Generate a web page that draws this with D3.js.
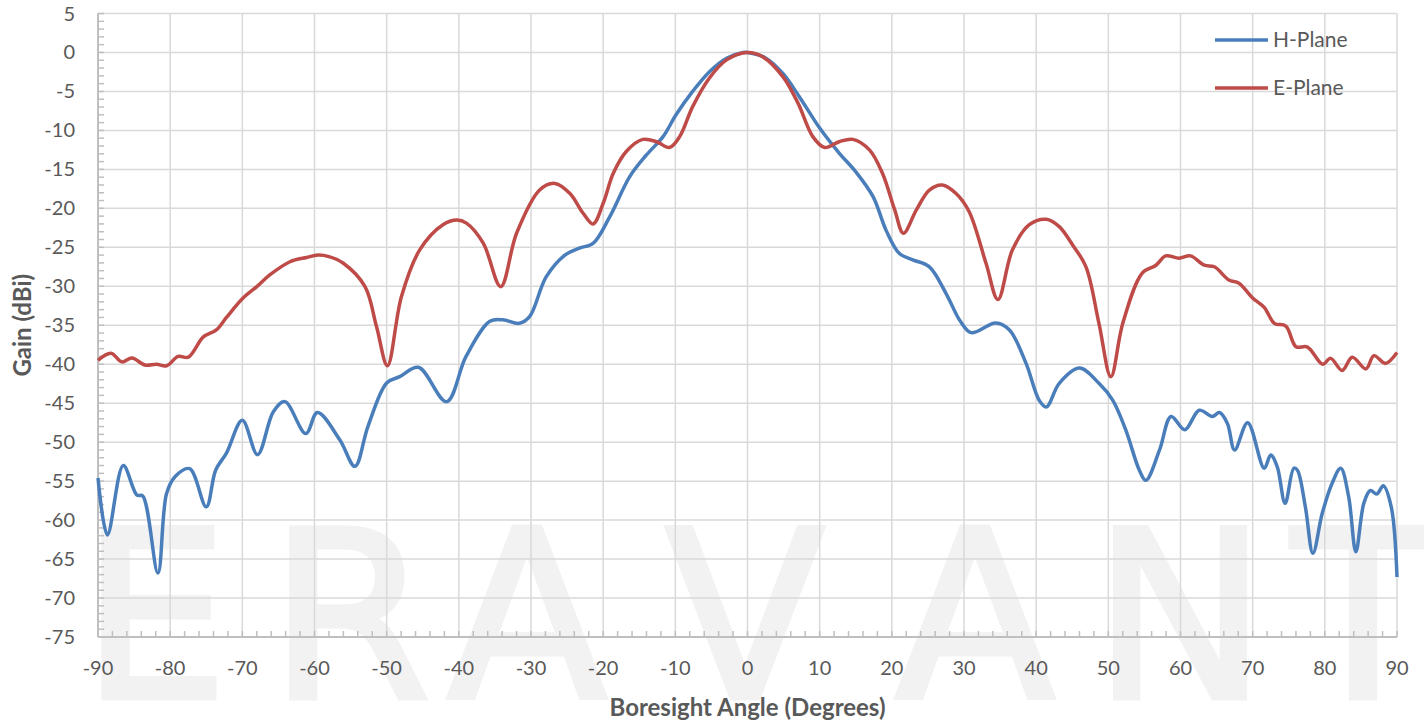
<!DOCTYPE html>
<html>
<head>
<meta charset="utf-8">
<script src="https://cdn.jsdelivr.net/npm/d3@7"></script>
<style>
  body { margin: 0; background: #fff; }
  text { font-family: Lato, "Open Sans", sans-serif; }
</style>
</head>
<body>
<script>
// gain pattern
var hAngles = [-90, -88.7, -86.5, -84.6, -83.8, -81.7, -80.5, -79.3, -77.3, -75.0, -73.7, -72.2, -70.0, -67.9, -65.7, -64.1, -61.2, -59.6,
  -56.5, -54.4, -52.6, -50.0, -48.2, -45.6, -41.7, -39.0, -35.7, -33.9, -31.6, -30.2, -27.9, -25.3, -23.3, -21.4, -19.1, -16.3,
  -14.0, -11.7, -9.9, -7.6, -5.3, -2.9, -0.6, 0, 2.5, 4.9, 7.2, 10.0, 12.7, 15.0, 17.4, 19.2, 21.05, 22.9, 25.2, 27.5, 29.5, 31.0,
  34.4, 36.3, 38.6, 40.4, 41.4, 43.2, 46.0, 48.7, 50.6, 52.4, 54.3, 55.2, 57.1, 58.7, 60.6, 62.6, 64.4, 65.4, 66.5, 67.5, 69.3,
  71.6, 72.5, 73.4, 74.5, 75.7, 76.2, 77.3, 78.35, 79.65, 81.0, 82.2, 83.3, 84.3, 85.4, 86.3, 87.2, 88.1, 89.2, 90];
var hGain = [-54.6, -61.9, -53.0, -56.8, -56.9, -66.8, -56.6, -54.4, -53.4, -58.3, -53.6, -51.4, -47.2, -51.6, -46.1, -44.8, -48.9, -46.2,
  -49.7, -53.1, -48.0, -42.4, -41.6, -40.4, -44.8, -39.0, -34.5, -34.3, -34.75, -33.9, -28.8, -26.0, -25.1, -24.5, -21.1, -15.9,
  -13.15, -10.8, -8.0, -5.0, -2.5, -0.75, 0, 0, -0.7, -2.7, -5.7, -9.7, -12.9, -15.3, -18.5, -22.8, -25.8, -26.6, -27.5, -30.9, -34.5, -35.95,
  -34.7, -35.6, -39.9, -44.6, -45.5, -42.45, -40.5, -42.45, -44.6, -48.4, -53.6, -54.9, -51.0, -46.7, -48.4, -45.9, -46.7, -46.2, -47.6, -51.0, -47.5,
  -53.35, -51.65, -53.15, -57.85, -53.35, -53.6, -58.3, -64.25, -59.1, -55.3, -53.35, -57.0, -64.05, -57.85, -56.2, -56.65, -55.6, -58.3, -67.3];

var eAngles = [-90, -88.2, -86.7, -85.3, -83.5, -81.9, -80.5, -78.9, -77.5, -75.4, -73.6, -72.2, -69.9, -68.0, -66.2, -63.4, -61.1, -59.5,
  -58.0, -56.0, -53.0, -51.4, -49.9, -47.95, -45.4, -42.2, -40.3, -38.95, -36.6, -34.2, -32.0, -28.8, -26.7, -24.6, -22.8, -21.4,
  -20.0, -18.6, -16.8, -14.5, -12.6, -10.8, -9.4, -7.6, -5.3, -2.9, 0, 2.1, 4.9, 7.0, 9.05, 10.7, 12.7, 14.6, 16.9, 18.7, 20.4,
  21.6, 23.4, 25.2, 27.0, 28.9, 30.7, 33.05, 34.7, 36.7, 39.05, 41.4, 43.2, 45.05, 46.9, 48.7, 50.35, 52.0, 54.7, 56.6, 57.95,
  59.8, 61.4, 63.3, 64.7, 66.7, 68.1, 70.0, 71.6, 73.0, 74.6, 76.0, 77.6, 79.7, 80.8, 82.4, 83.8, 85.7, 86.8, 88.4, 90];
var eGain = [-39.5, -38.6, -39.7, -39.2, -40.1, -40.0, -40.2, -39.0, -39.1, -36.5, -35.6, -34.0, -31.5, -30.05, -28.55, -26.85, -26.3, -26.0,
  -26.2, -27.05, -30.05, -35.2, -40.2, -31.3, -25.3, -22.1, -21.5, -21.9, -24.5, -30.05, -23.2, -17.65, -16.8, -18.1, -20.6, -22.0,
  -19.35, -15.5, -12.7, -11.15, -11.45, -12.2, -10.8, -6.95, -3.3, -0.95, 0, -0.55, -3.1, -6.5, -10.8, -12.2, -11.45, -11.15, -12.5, -15.5, -20.2,
  -23.2, -20.2, -17.65, -17.0, -18.1, -20.4, -27.05, -31.7, -25.35, -22.1, -21.4, -22.35, -24.7, -27.5, -34.75, -41.6, -34.75, -28.3, -27.3, -26.1,
  -26.4, -26.1, -27.3, -27.5, -29.2, -29.6, -31.5, -32.7, -34.75, -35.1, -37.75, -37.8, -40.0, -39.25, -40.8, -39.1, -40.6, -38.9, -39.9, -38.5];

var seriesNames = ['H-Plane', 'E-Plane'];
var seriesColors = ['#4a7ebb', '#be4b48'];
var xTicks = d3.range(-90, 91, 10);
var yTicks = d3.range(-75, 6, 5);
var watermark = ['E', 'R', 'A', 'V', 'A', 'N', 'T'];

var W = 1424, H = 725;
var pLeft = 98, pRight = 1397, pTop = 13.5, pBottom = 637;

var svg = d3.select('body').append('svg')
  .attr('width', W)
  .attr('height', H);

// faint logo behind the plot
var wmX = [155, 350, 527, 745, 975, 1180, 1363];
svg.append('g').selectAll('text')
  .data(watermark)
  .enter().append('text')
  .attr('x', function(d, i) { return wmX[i]; })
  .attr('y', 698)
  .attr('text-anchor', 'middle')
  .style('font-family', '"DejaVu Sans", sans-serif')
  .style('font-size', '234px')
  .style('fill', '#f2f2f2')
  .style('stroke', '#f2f2f2')
  .style('stroke-width', 5)
  .style('stroke-linejoin', 'miter')
  .text(function(d) { return d; });

var x = d3.scaleLinear().domain([-90, 90]).range([pLeft, pRight]);
var y = d3.scaleLinear().domain([-75, 5]).range([pBottom, pTop]);

// grid
var grid = svg.append('g').style('stroke', '#d9d9d9').style('stroke-width', 1.5);
grid.selectAll('.gx').data(xTicks).enter().append('line')
  .attr('x1', function(d) { return x(d); }).attr('x2', function(d) { return x(d); })
  .attr('y1', pTop).attr('y2', pBottom);
grid.selectAll('.gy').data(yTicks).enter().append('line')
  .attr('x1', pLeft).attr('x2', pRight)
  .attr('y1', function(d) { return y(d); }).attr('y2', function(d) { return y(d); });

// axes with minor ticks pointing inward
var axisCol = '#bfbfbf';
var yMinor = d3.range(-75, 5.01, 1);
var xMinor = d3.range(-90, 90.01, 2);
svg.append('g').selectAll('line').data(yMinor).enter().append('line')
  .attr('x1', pLeft).attr('x2', pLeft + 6)
  .attr('y1', function(d) { return y(d); }).attr('y2', function(d) { return y(d); })
  .style('stroke', axisCol).style('stroke-width', 1.5);
svg.append('g').selectAll('line').data(xMinor).enter().append('line')
  .attr('x1', function(d) { return x(d); }).attr('x2', function(d) { return x(d); })
  .attr('y1', pBottom).attr('y2', pBottom - 6)
  .style('stroke', axisCol).style('stroke-width', 1.5);
svg.append('line').attr('x1', pLeft).attr('x2', pLeft).attr('y1', pTop).attr('y2', pBottom)
  .style('stroke', axisCol).style('stroke-width', 2);
svg.append('line').attr('x1', pLeft).attr('x2', pRight).attr('y1', pBottom).attr('y2', pBottom)
  .style('stroke', axisCol).style('stroke-width', 2);

// tick labels
svg.append('g').selectAll('text').data(yTicks).enter().append('text')
  .attr('x', 75).attr('y', function(d) { return y(d); })
  .attr('dy', '0.35em')
  .attr('text-anchor', 'end')
  .style('font-size', '20px').style('fill', '#595959')
  .text(function(d) { return d; });
svg.append('g').selectAll('text').data(xTicks).enter().append('text')
  .attr('x', function(d) { return x(d); }).attr('y', 675)
  .attr('text-anchor', 'middle')
  .style('font-size', '20px').style('fill', '#595959')
  .text(function(d) { return d; });

// axis titles
svg.append('text')
  .attr('x', (pLeft + pRight) / 2).attr('y', 716)
  .attr('text-anchor', 'middle')
  .style('font-size', '24px').style('font-weight', 'bold').style('fill', '#595959')
  .text('Boresight Angle (Degrees)');
svg.append('text')
  .attr('transform', 'translate(31,' + ((pTop + pBottom) / 2) + ') rotate(-90)')
  .attr('text-anchor', 'middle')
  .style('font-size', '24px').style('font-weight', 'bold').style('fill', '#595959')
  .text('Gain (dBi)');

// curves
var line = d3.line()
  .x(function(d) { return x(d[0]); })
  .y(function(d) { return y(d[1]); })
  .curve(d3.curveCatmullRom.alpha(0.5));

var data = [d3.zip(hAngles, hGain), d3.zip(eAngles, eGain)];
svg.append('g').selectAll('path')
  .data(data)
  .enter().append('path')
  .attr('d', line)
  .style('fill', 'none')
  .style('stroke', function(d, i) { return seriesColors[i]; })
  .style('stroke-width', 3.5)
  .style('stroke-linejoin', 'round');

// legend
var legend = svg.append('g').selectAll('g')
  .data(seriesNames)
  .enter().append('g')
  .attr('transform', function(d, i) { return 'translate(1215,' + (40 + i * 48) + ')'; });
legend.append('line')
  .attr('x1', 0).attr('x2', 53)
  .style('stroke', function(d, i) { return seriesColors[i]; })
  .style('stroke-width', 3.5);
legend.append('text')
  .attr('x', 58).attr('dy', '0.35em')
  .style('font-size', '21px').style('fill', '#595959')
  .text(function(d) { return d; });
</script>
</body>
</html>
